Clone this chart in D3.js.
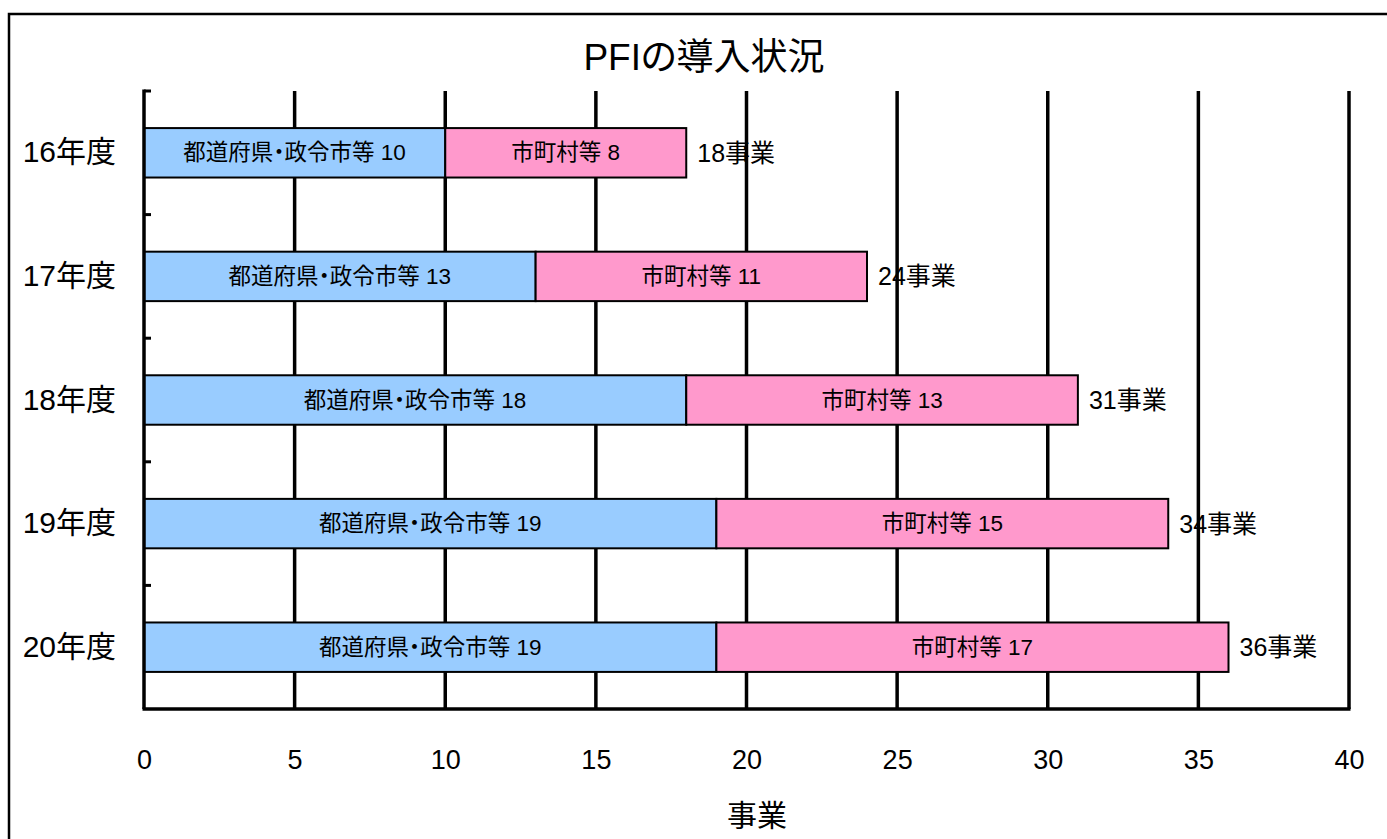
<!DOCTYPE html>
<html>
<head>
<meta charset="utf-8">
<script src="https://cdn.jsdelivr.net/npm/d3@7"></script>
<style>
  html, body { margin: 0; padding: 0; background: #fff; }
  svg { display: block; }
  text { font-family: "Liberation Sans", "Noto Sans CJK JP", sans-serif; fill: #000; font-feature-settings: "palt"; }
</style>
</head>
<body>
<svg id="chart" width="1387" height="839"></svg>
<script>
// 年度別のPFI導入件数
const years = ["16年度", "17年度", "18年度", "19年度", "20年度"];
const prefValues = [10, 13, 18, 19, 19];   // 都道府県・政令市等
const muniValues = [8, 11, 13, 15, 17];    // 市町村等
const prefName = "都道府県・政令市等";
const muniName = "市町村等";
const xTickValues = [0, 5, 10, 15, 20, 25, 30, 35, 40];
const chartTitle = "PFIの導入状況";
const axisTitle = "事業";
const unit = "事業";

const svg = d3.select("#chart");
const W = 1387, H = 839;
const plot = { left: 144, right: 1349, top: 91, bottom: 709 };

const x = d3.scaleLinear().domain([0, 40]).range([plot.left, plot.right]);
const y = d3.scaleBand().domain(years).range([plot.top, plot.bottom])
  .paddingInner(0.6).paddingOuter(0.3);

const rows = years.map((yr, i) => ({
  year: yr, pref: prefValues[i], muni: muniValues[i], total: prefValues[i] + muniValues[i]
}));

// outer frame
svg.append("rect")
  .attr("x", 9).attr("y", 14).attr("width", W + 20).attr("height", H + 20)
  .attr("fill", "none").attr("stroke", "#000").attr("stroke-width", 2.5);

// title
svg.append("text")
  .attr("x", 704).attr("y", 57)
  .attr("text-anchor", "middle").attr("dominant-baseline", "central")
  .attr("font-size", 37)
  .text(chartTitle);

// totals (sit beneath the gridlines)
svg.append("g").selectAll("text")
  .data(rows).join("text")
  .attr("x", d => x(d.total) + 11)
  .attr("y", d => y(d.year) + y.bandwidth() / 2)
  .attr("dominant-baseline", "central")
  .attr("font-size", 25)
  .text(d => d.total + unit);

// vertical gridlines
svg.append("g").selectAll("line")
  .data(xTickValues.filter(v => v > 0)).join("line")
  .attr("x1", d => x(d)).attr("x2", d => x(d))
  .attr("y1", plot.top).attr("y2", plot.bottom)
  .attr("stroke", "#000").attr("stroke-width", 3.5);

// stacked bars
const bars = svg.append("g");
bars.selectAll("rect.pref")
  .data(rows).join("rect").attr("class", "pref")
  .attr("x", x(0)).attr("y", d => y(d.year))
  .attr("width", d => x(d.pref) - x(0)).attr("height", y.bandwidth())
  .attr("fill", "#99CCFF").attr("stroke", "#000").attr("stroke-width", 2);
bars.selectAll("rect.muni")
  .data(rows).join("rect").attr("class", "muni")
  .attr("x", d => x(d.pref)).attr("y", d => y(d.year))
  .attr("width", d => x(d.pref + d.muni) - x(d.pref)).attr("height", y.bandwidth())
  .attr("fill", "#FF99CC").attr("stroke", "#000").attr("stroke-width", 2);

// segment labels
const labels = svg.append("g").attr("font-size", 22.5);
labels.selectAll("text.pref")
  .data(rows).join("text").attr("class", "pref")
  .attr("x", d => (x(0) + x(d.pref)) / 2)
  .attr("y", d => y(d.year) + y.bandwidth() / 2)
  .attr("text-anchor", "middle").attr("dominant-baseline", "central")
  .text(d => `${prefName} ${d.pref}`);
labels.selectAll("text.muni")
  .data(rows).join("text").attr("class", "muni")
  .attr("x", d => (x(d.pref) + x(d.pref + d.muni)) / 2)
  .attr("y", d => y(d.year) + y.bandwidth() / 2)
  .attr("text-anchor", "middle").attr("dominant-baseline", "central")
  .text(d => `${muniName} ${d.muni}`);

// category boundary ticks on the value axis
const step = y.step();
const boundaries = years.map((yr, i) => plot.top + i * step);
svg.append("g").selectAll("line")
  .data(boundaries).join("line")
  .attr("x1", plot.left).attr("x2", plot.left + 7)
  .attr("y1", d => d).attr("y2", d => d)
  .attr("stroke", "#000").attr("stroke-width", 3);

// axis lines
svg.append("line")
  .attr("x1", plot.left).attr("x2", plot.left)
  .attr("y1", plot.top - 1.5).attr("y2", plot.bottom)
  .attr("stroke", "#000").attr("stroke-width", 3.5);
svg.append("line")
  .attr("x1", plot.left - 1.5).attr("x2", plot.right + 1.5)
  .attr("y1", plot.bottom).attr("y2", plot.bottom)
  .attr("stroke", "#000").attr("stroke-width", 3.5);

// x tick labels
const xAxis = svg.append("g")
  .attr("transform", `translate(0,${plot.bottom})`)
  .call(d3.axisBottom(x).tickValues(xTickValues).tickSize(0).tickPadding(41).tickFormat(d3.format("d")));
xAxis.select(".domain").remove();
xAxis.selectAll("text").attr("font-size", 27).attr("font-family", null);

// category labels
const yAxis = svg.append("g")
  .attr("transform", `translate(${plot.left},0)`)
  .call(d3.axisLeft(y).tickSize(0).tickPadding(28));
yAxis.select(".domain").remove();
yAxis.selectAll("text").attr("font-size", 30).attr("font-family", null);

// axis title
svg.append("text")
  .attr("x", 757).attr("y", 815)
  .attr("text-anchor", "middle").attr("dominant-baseline", "central")
  .attr("font-size", 30)
  .text(axisTitle);
</script>
</body>
</html>
